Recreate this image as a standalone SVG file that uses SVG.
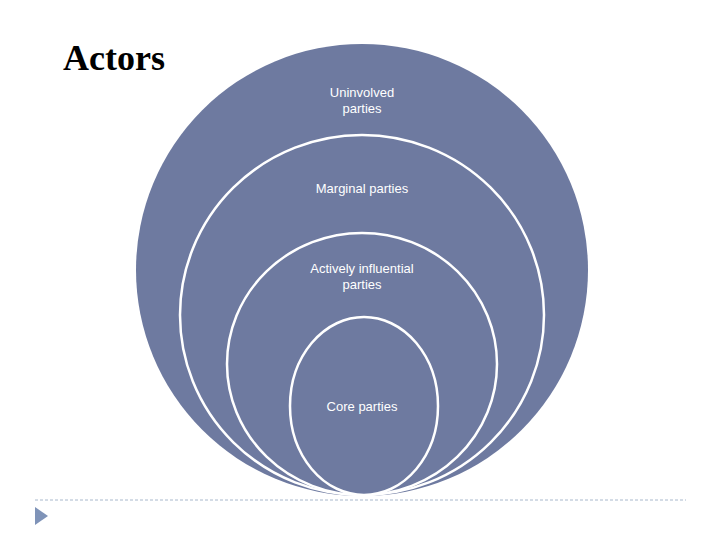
<svg xmlns="http://www.w3.org/2000/svg" width="720" height="540" viewBox="0 0 720 540">
<style>
.e{fill:#6e7aa0;stroke:#ffffff;stroke-width:2.5}
.t{font-family:"Liberation Sans",Arial,sans-serif;font-size:13px;fill:#ffffff;text-anchor:middle}
</style>
<rect width="720" height="540" fill="#ffffff"/>
<text x="63" y="70" font-family="Liberation Serif,serif" font-size="36" font-weight="bold" fill="#000">Actors</text>
<line x1="35" y1="500" x2="686" y2="500" stroke="#a8b8cc" stroke-width="1" stroke-dasharray="3,2"/>
<polygon points="35,507 35,525 48,516" fill="#7f93b8"/>
<g id="n1"><ellipse class="e" cx="362" cy="270" rx="226" ry="226" style="stroke:none"/>
<text class="t" x="362" y="97">Uninvolved</text><text class="t" x="362" y="113">parties</text></g>
<g id="n2"><ellipse class="e" cx="362" cy="315" rx="182" ry="180"/>
<text class="t" x="362" y="193">Marginal parties</text></g>
<g id="n3"><ellipse class="e" cx="362" cy="364" rx="135" ry="131"/>
<text class="t" x="362" y="273">Actively influential</text><text class="t" x="362" y="289">parties</text></g>
<g id="n4"><ellipse class="e" cx="364" cy="406" rx="74" ry="89"/>
<text class="t" x="362" y="411">Core parties</text></g>
<g id="connectors"></g>
</svg>
